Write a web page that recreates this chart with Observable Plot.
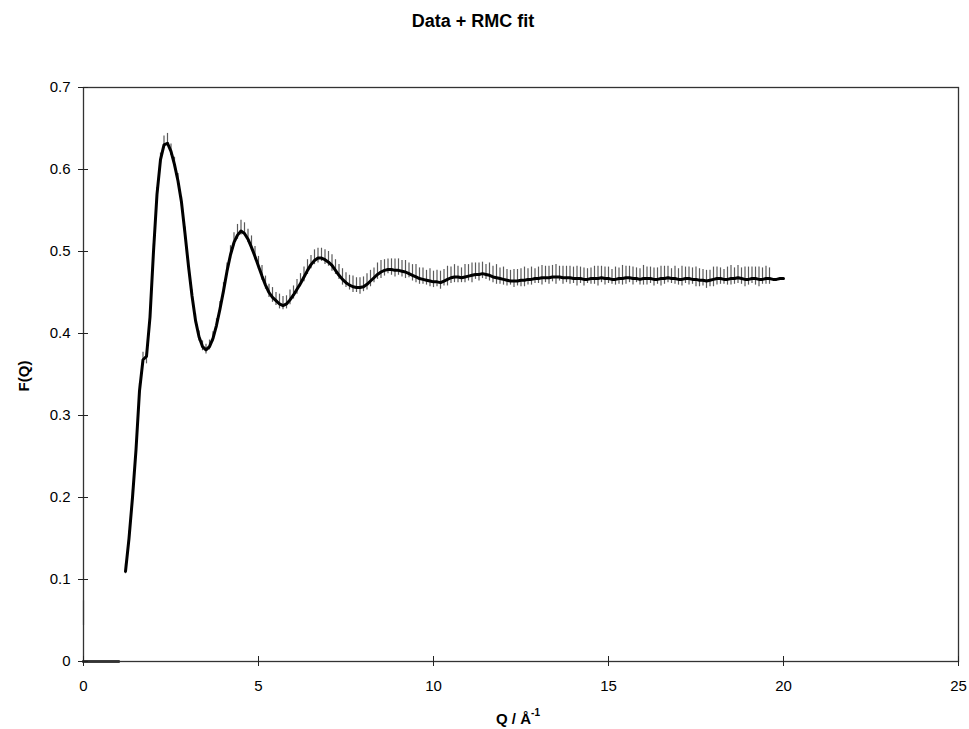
<!DOCTYPE html>
<html>
<head>
<meta charset="utf-8">
<script src="https://cdn.jsdelivr.net/npm/d3@7"></script>
<script src="https://cdn.jsdelivr.net/npm/@observablehq/plot@0.6"></script>
<style>
  html, body { margin: 0; padding: 0; background: #fff; }
  #chart { width: 969px; height: 729px; }
</style>
</head>
<body>
<div id="chart"></div>
<script>
// ---- Texts ----
const titleText = "Data + RMC fit";
const yLabelText = "F(Q)";
const xLabelMain = "Q / Å";
const xLabelSup = "-1";

// ---- Ticks ----
const xTicks = [0, 5, 10, 15, 20, 25];
const xTickLabels = ["0", "5", "10", "15", "20", "25"];
const yTicks = [0, 0.1, 0.2, 0.3, 0.4, 0.5, 0.6, 0.7];
const yTickLabels = ["0", "0.1", "0.2", "0.3", "0.4", "0.5", "0.6", "0.7"];

// ---- Q grid (Å^-1) ----
const q = [1.2,1.3,1.4,1.5,1.6,1.7,1.8,1.9,2.0,2.1,2.2,2.3,2.4,2.5,2.6,2.7,2.8,2.9,3.0,3.1,3.2,3.3,3.4,3.5,3.6,3.7,3.8,3.9,4.0,4.1,4.2,4.3,4.4,4.5,4.6,4.7,4.8,4.9,5.0,5.1,5.2,5.3,5.4,5.5,5.6,5.7,5.8,5.9,6.0,6.1,6.2,6.3,6.4,6.5,6.6,6.7,6.8,6.9,7.0,7.1,7.2,7.3,7.4,7.5,7.6,7.7,7.8,7.9,8.0,8.1,8.2,8.3,8.4,8.5,8.6,8.7,8.8,8.9,9.0,9.1,9.2,9.3,9.4,9.5,9.6,9.7,9.8,9.9,10.0,10.1,10.2,10.3,10.4,10.5,10.6,10.7,10.8,10.9,11.0,11.1,11.2,11.3,11.4,11.5,11.6,11.7,11.8,11.9,12.0,12.1,12.2,12.3,12.4,12.5,12.6,12.7,12.8,12.9,13.0,13.1,13.2,13.3,13.4,13.5,13.6,13.7,13.8,13.9,14.0,14.1,14.2,14.3,14.4,14.5,14.6,14.7,14.8,14.9,15.0,15.1,15.2,15.3,15.4,15.5,15.6,15.7,15.8,15.9,16.0,16.1,16.2,16.3,16.4,16.5,16.6,16.7,16.8,16.9,17.0,17.1,17.2,17.3,17.4,17.5,17.6,17.7,17.8,17.9,18.0,18.1,18.2,18.3,18.4,18.5,18.6,18.7,18.8,18.9,19.0,19.1,19.2,19.3,19.4,19.5,19.6,19.7,19.8,19.9,20.0];

// ---- RMC fit F(Q) ----
const fitF = [0.110,0.150,0.200,0.258,0.330,0.368,0.372,0.420,0.500,0.570,0.612,0.630,0.632,0.622,0.606,0.586,0.560,0.522,0.482,0.446,0.416,0.396,0.384,0.380,0.384,0.394,0.410,0.430,0.452,0.476,0.496,0.511,0.520,0.525,0.522,0.515,0.505,0.494,0.482,0.470,0.459,0.450,0.444,0.440,0.436,0.434,0.436,0.441,0.447,0.454,0.461,0.469,0.477,0.484,0.489,0.492,0.492,0.490,0.487,0.483,0.477,0.471,0.466,0.462,0.459,0.457,0.456,0.456,0.457,0.460,0.464,0.468,0.472,0.475,0.477,0.478,0.478,0.477,0.477,0.476,0.475,0.473,0.471,0.469,0.467,0.466,0.465,0.464,0.463,0.463,0.462,0.464,0.466,0.468,0.469,0.469,0.468,0.469,0.470,0.471,0.472,0.472,0.473,0.472,0.471,0.469,0.468,0.467,0.466,0.465,0.464,0.464,0.464,0.465,0.465,0.466,0.466,0.467,0.467,0.468,0.468,0.468,0.469,0.469,0.469,0.468,0.468,0.468,0.467,0.467,0.467,0.466,0.466,0.467,0.467,0.467,0.468,0.467,0.467,0.466,0.466,0.467,0.467,0.468,0.468,0.467,0.467,0.466,0.467,0.467,0.467,0.466,0.466,0.467,0.467,0.468,0.467,0.467,0.466,0.466,0.467,0.467,0.466,0.466,0.465,0.465,0.464,0.465,0.466,0.467,0.467,0.466,0.466,0.467,0.467,0.468,0.467,0.466,0.466,0.467,0.467,0.466,0.466,0.467,0.467,0.466,0.466,0.467,0.467];

// ---- Measured data F(Q) ----
const dataF = [0.113,0.153,0.203,0.259,0.333,0.371,0.369,0.422,0.503,0.572,0.614,0.634,0.636,0.624,0.609,0.589,0.561,0.524,0.483,0.447,0.418,0.397,0.385,0.381,0.386,0.396,0.412,0.433,0.455,0.479,0.499,0.515,0.524,0.529,0.527,0.519,0.510,0.498,0.486,0.474,0.462,0.452,0.447,0.442,0.439,0.437,0.438,0.444,0.450,0.457,0.465,0.472,0.481,0.487,0.493,0.495,0.496,0.493,0.491,0.486,0.481,0.475,0.469,0.465,0.462,0.460,0.459,0.458,0.460,0.463,0.467,0.471,0.476,0.478,0.480,0.482,0.481,0.480,0.481,0.479,0.478,0.477,0.474,0.473,0.470,0.470,0.468,0.468,0.466,0.467,0.465,0.468,0.470,0.471,0.473,0.472,0.471,0.473,0.474,0.474,0.476,0.475,0.477,0.475,0.475,0.472,0.472,0.470,0.470,0.468,0.468,0.467,0.468,0.468,0.469,0.469,0.470,0.470,0.471,0.471,0.472,0.471,0.473,0.472,0.473,0.471,0.472,0.471,0.471,0.470,0.471,0.469,0.470,0.470,0.471,0.470,0.472,0.470,0.471,0.469,0.470,0.470,0.471,0.471,0.472,0.470,0.471,0.469,0.471,0.470,0.471,0.469,0.470,0.470,0.471,0.472,0.470,0.471,0.469,0.470,0.471,0.470,0.470,0.469,0.468,0.468,0.466,0.467,0.469,0.470,0.470,0.469,0.470,0.471,0.470,0.472,0.470,0.469,0.470,0.471,0.470,0.469,0.470,0.471,0.470,0.469,0.470,0.471,0.471];

// ---- Error bar half-widths ----
const dataErr = [0.006,0.006,0.006,0.006,0.006,0.006,0.006,0.006,0.006,0.006,0.006,0.007,0.008,0.007,0.006,0.006,0.006,0.006,0.006,0.006,0.006,0.006,0.006,0.006,0.006,0.006,0.006,0.006,0.007,0.007,0.008,0.008,0.009,0.009,0.008,0.008,0.009,0.008,0.008,0.009,0.008,0.008,0.009,0.008,0.009,0.008,0.008,0.009,0.008,0.009,0.008,0.009,0.009,0.008,0.009,0.009,0.008,0.009,0.009,0.010,0.009,0.009,0.010,0.009,0.009,0.010,0.009,0.010,0.009,0.010,0.010,0.009,0.010,0.011,0.010,0.009,0.010,0.011,0.010,0.010,0.011,0.009,0.010,0.011,0.010,0.010,0.009,0.011,0.010,0.010,0.011,0.010,0.012,0.010,0.011,0.010,0.009,0.011,0.010,0.012,0.010,0.011,0.010,0.009,0.011,0.010,0.012,0.010,0.011,0.010,0.009,0.011,0.010,0.011,0.012,0.010,0.011,0.009,0.010,0.012,0.010,0.011,0.010,0.012,0.009,0.011,0.010,0.011,0.010,0.012,0.010,0.011,0.009,0.010,0.011,0.012,0.010,0.011,0.010,0.009,0.011,0.010,0.012,0.011,0.010,0.011,0.009,0.010,0.012,0.011,0.010,0.011,0.010,0.012,0.011,0.010,0.009,0.011,0.010,0.012,0.010,0.011,0.010,0.012,0.011,0.010,0.011,0.010,0.012,0.011,0.010,0.009,0.011,0.012,0.010,0.011,0.010,0.012,0.011,0.010,0.011,0.012,0.010,0.011,0.010];

// ---- Low-Q pieces ----
const zeroQ = [0, 1.0];
const zeroF = [0, 0];
const firstQ = [0];
const firstF = [0.059];
const firstErr = [0.015];

// ---- Build tables ----
const fitRows = q.map((v, i) => ({q: v, f: fitF[i]}));
const dataRows = q.map((v, i) => ({q: v, lo: dataF[i] - dataErr[i], hi: dataF[i] + dataErr[i]}))
  .concat(firstQ.map((v, i) => ({q: v, lo: firstF[i] - firstErr[i], hi: firstF[i] + firstErr[i]})));
const zeroRows = zeroQ.map((v, i) => ({q: v, f: zeroF[i]}));

const font = "'Liberation Sans', Arial, Helvetica, sans-serif";

const svg = Plot.plot({
  width: 969,
  height: 729,
  marginTop: 87,
  marginBottom: 68,
  marginLeft: 83,
  marginRight: 11,
  style: {fontFamily: font, fontSize: "15px", color: "#000", background: "#fff"},
  x: {domain: [0, 25], axis: null},
  y: {domain: [0, 0.7], axis: null},
  marks: [
    Plot.ruleX(dataRows, {x: "q", y1: "lo", y2: "hi", stroke: "#5a5a5a", strokeWidth: 1.2}),
    Plot.line(fitRows, {x: "q", y: "f", stroke: "#000", strokeWidth: 3, strokeLinejoin: "round"}),
    Plot.line(zeroRows, {x: "q", y: "f", stroke: "#000", strokeWidth: 2.5, strokeLinecap: "square"}),
    Plot.frame({stroke: "#333", strokeWidth: 1.3}),
    // tick marks crossing axes
    Plot.axisX(xTicks, {anchor: "bottom", tickSize: 10, dy: -5, tickFormat: () => "", label: null, stroke: "#222"}),
    Plot.axisY(yTicks, {anchor: "left", tickSize: 10, dx: 5, tickFormat: () => "", label: null, stroke: "#222"}),
    // tick labels
    Plot.axisX(xTicks, {anchor: "bottom", tickSize: 0, tickPadding: 19, tickFormat: (d) => xTickLabels[xTicks.indexOf(d)], label: null, fontSize: 15, fill: "#000"}),
    Plot.axisY(yTicks, {anchor: "left", tickSize: 0, tickPadding: 13, tickFormat: (d) => yTickLabels[yTicks.indexOf(d)], label: null, fontSize: 15, fill: "#000"})
  ]
});

const s = d3.select(svg);
s.append("text")
  .attr("x", 473).attr("y", 27)
  .attr("text-anchor", "middle")
  .style("font-family", font).style("font-size", "18px").style("font-weight", "bold")
  .attr("fill", "#000")
  .text(titleText);

s.append("text")
  .attr("transform", "translate(29,376) rotate(-90)")
  .attr("text-anchor", "middle")
  .style("font-family", font).style("font-size", "15px").style("font-weight", "bold")
  .attr("fill", "#000")
  .text(yLabelText);

const xl = s.append("text")
  .attr("x", 518).attr("y", 724)
  .attr("text-anchor", "middle")
  .style("font-family", font).style("font-size", "15px").style("font-weight", "bold")
  .attr("fill", "#000");
xl.append("tspan").text(xLabelMain);
xl.append("tspan").attr("dy", -8).style("font-size", "10px").text(xLabelSup);

document.getElementById("chart").appendChild(svg);
</script>
</body>
</html>
